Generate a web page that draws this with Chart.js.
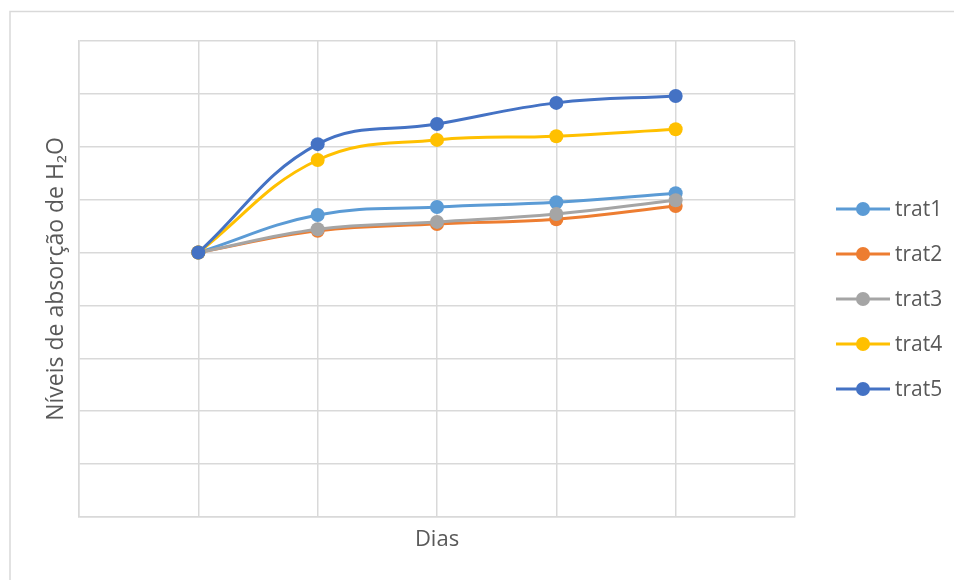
<!DOCTYPE html>
<html>
<head>
<meta charset="utf-8">
<style>
  body { margin: 0; background: #fff; }
  canvas { display: block; }
</style>
<script src="https://cdn.jsdelivr.net/npm/chart.js@4/dist/chart.umd.min.js"></script>
</head>
<body>
<canvas id="absChart" width="954" height="580"></canvas>
<script>
const dias = [1, 2, 3, 4, 5];
const seriesNames = ['trat1', 'trat2', 'trat3', 'trat4', 'trat5'];
const trat1 = [5.0, 5.71, 5.86, 5.95, 6.12];
const trat2 = [5.0, 5.41, 5.54, 5.63, 5.88];
const trat3 = [5.0, 5.44, 5.58, 5.73, 5.99];
const trat4 = [5.0, 6.75, 7.13, 7.20, 7.33];
const trat5 = [5.0, 7.05, 7.43, 7.83, 7.96];
const colors = ['#5B9BD5', '#ED7D31', '#A5A5A5', '#FFC000', '#4472C4'];

const allSeries = [trat1, trat2, trat3, trat4, trat5];
const gridColor = '#d9d9d9';
const textColor = '#595959';

const datasets = allSeries.map((vals, i) => ({
    label: seriesNames[i],
    data: vals.map((v, j) => ({ x: dias[j], y: v })),
    borderColor: colors[i],
    backgroundColor: colors[i],
    borderWidth: 3,
    pointRadius: 7,
    pointHoverRadius: 7,
    pointBorderWidth: 0,
    tension: 0.4,
    order: allSeries.length - i
}));

// outer frame + legend on the right, drawn like excel does it
const framePlugin = {
    id: 'frame',
    beforeDraw(chart) {
        const ctx = chart.ctx;
        ctx.save();
        ctx.strokeStyle = gridColor;
        ctx.lineWidth = 1.5;
        ctx.beginPath();
        ctx.moveTo(10, 590);
        ctx.lineTo(10, 11.5);
        ctx.lineTo(960, 11.5);
        ctx.stroke();
        ctx.restore();
    },
    afterDraw(chart) {
        const ctx = chart.ctx;
        chart.data.datasets.forEach((ds, i) => {
            const y = 209 + i * 45;
            ctx.save();
            ctx.strokeStyle = ds.borderColor;
            ctx.lineWidth = 3;
            ctx.beginPath();
            ctx.moveTo(836, y);
            ctx.lineTo(890, y);
            ctx.stroke();
            ctx.fillStyle = ds.backgroundColor;
            ctx.beginPath();
            ctx.arc(863, y, 7, 0, Math.PI * 2);
            ctx.fill();
            ctx.fillStyle = textColor;
            ctx.font = '21px "Open Sans"';
            ctx.textBaseline = 'middle';
            ctx.fillText(ds.label, 895, y + 1);
            ctx.restore();
        });
    }
};

const ctx = document.getElementById('absChart').getContext('2d');
const absChart = new Chart(ctx, {
    type: 'line',
    data: { datasets: datasets },
    options: {
        responsive: false,
        animation: false,
        layout: { padding: { left: 0, top: 41, right: 159, bottom: 0 } },
        plugins: {
            legend: { display: false },
            tooltip: { enabled: false }
        },
        scales: {
            x: {
                type: 'linear',
                min: 0,
                max: 6,
                ticks: { display: false, stepSize: 1 },
                grid: { color: gridColor, lineWidth: 1.5, drawTicks: false },
                border: { color: gridColor, width: 1.5 },
                title: {
                    display: true,
                    text: 'Dias',
                    color: textColor,
                    font: { family: 'Open Sans', size: 22 },
                    padding: { top: 0, bottom: 27 }
                },
                afterFit: (scale) => { scale.height = 63; }
            },
            y: {
                min: 0,
                max: 9,
                ticks: { display: false, stepSize: 1 },
                grid: { color: gridColor, lineWidth: 1.5, drawTicks: false },
                border: { color: gridColor, width: 1.5 },
                title: {
                    display: true,
                    text: 'Níveis de absorção de H₂O',
                    color: textColor,
                    font: { family: 'Open Sans', size: 23 },
                    padding: { top: 43, bottom: 0 }
                },
                afterFit: (scale) => { scale.width = 79; }
            }
        }
    },
    plugins: [framePlugin]
});
</script>
</body>
</html>
